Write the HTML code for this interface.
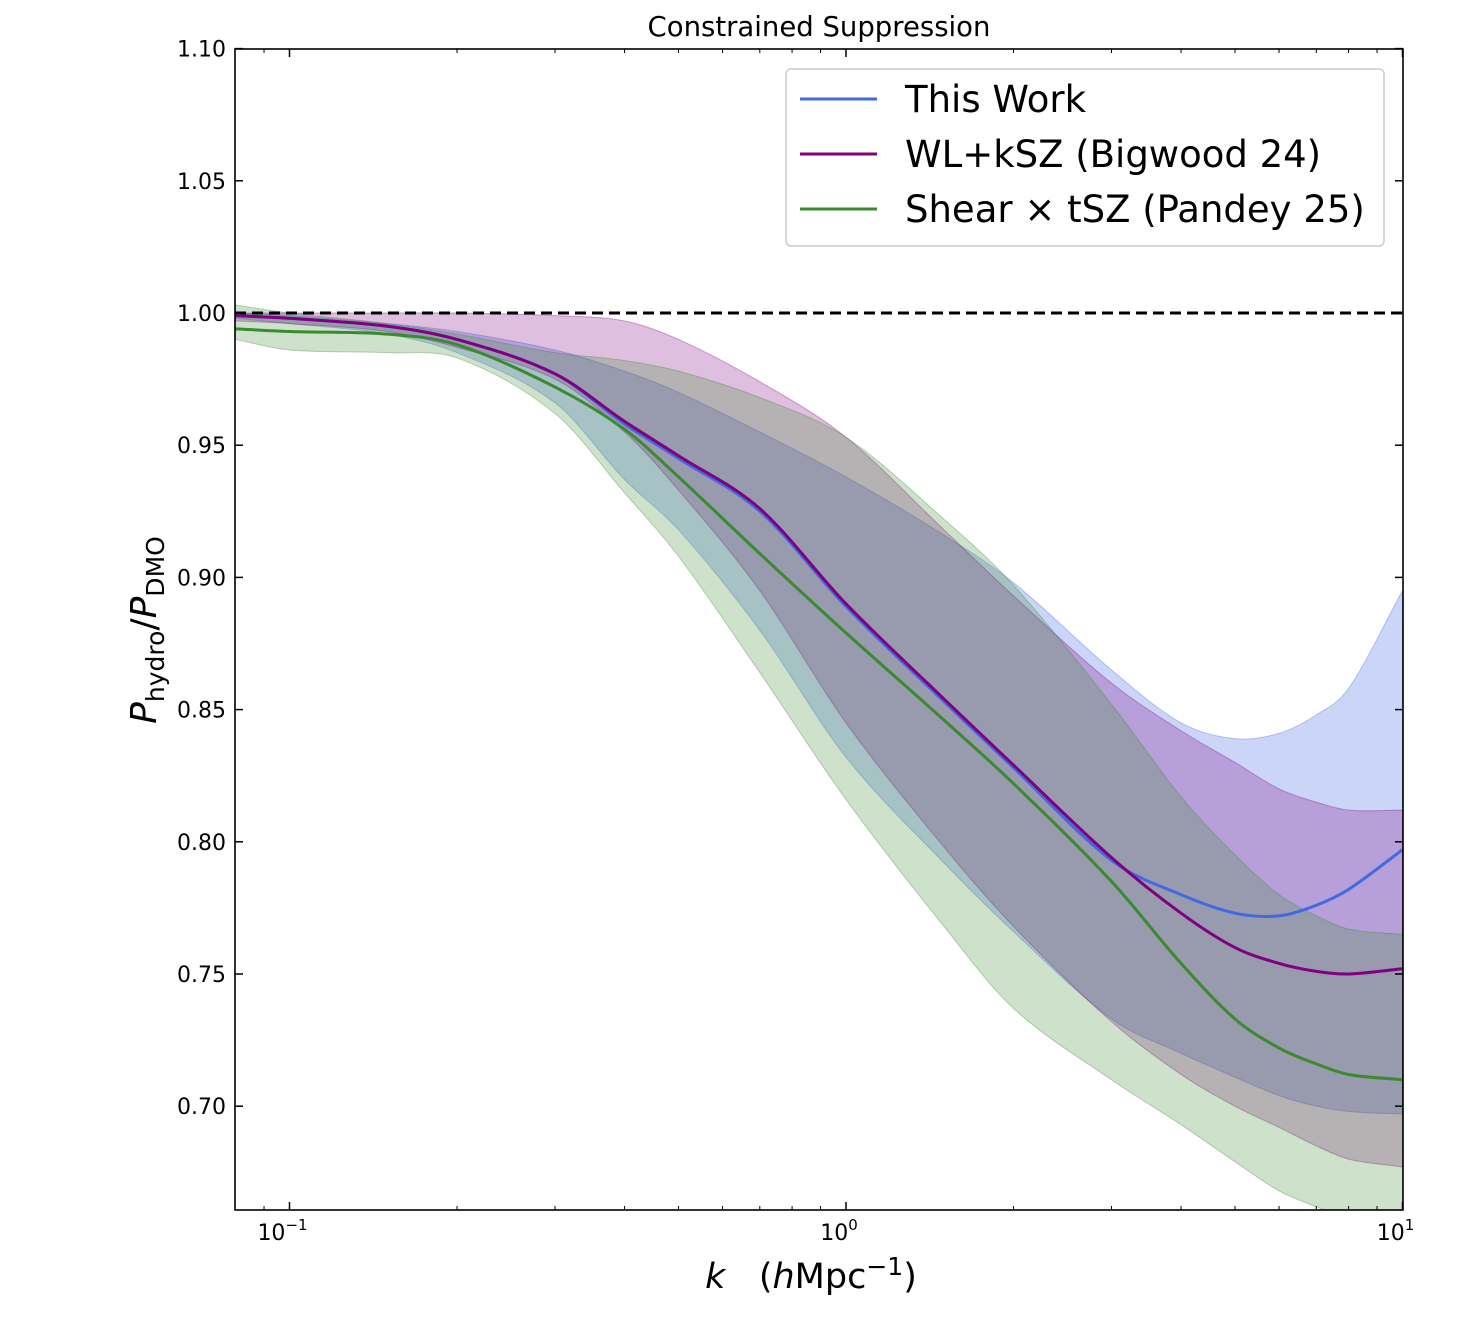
<!DOCTYPE html>
<html><head><meta charset="utf-8"><style>
body{margin:0;background:#fff}
svg text{font-family:"DejaVu Sans","Liberation Sans",sans-serif}
</style></head><body>
<svg id="chart" width="1478" height="1324" xmlns="http://www.w3.org/2000/svg">
<defs><clipPath id="pc"><rect x="235" y="49" width="1168" height="1161"/></clipPath></defs>
<text x="819" y="36" font-size="27.5" text-anchor="middle">Constrained Suppression</text>
<g id="bands" clip-path="url(#pc)"></g>
<line x1="235" x2="1403" y1="313" y2="313" stroke="#000" stroke-width="3" stroke-dasharray="11,6"/>
<g id="lines" clip-path="url(#pc)"></g>
<g id="axes"></g>
<rect x="235" y="49" width="1168" height="1161" fill="none" stroke="#000" stroke-width="1.6"/>
<text transform="translate(156,630) rotate(-90)" font-size="36" text-anchor="middle"><tspan font-style="italic">P</tspan><tspan font-size="25" dy="8">hydro</tspan><tspan dy="-8">/</tspan><tspan font-style="italic">P</tspan><tspan font-size="25" dy="8">DMO</tspan></text>
<text x="811" y="1288" font-size="35" text-anchor="middle" xml:space="preserve"><tspan font-style="italic">k</tspan>   (<tspan font-style="italic">h</tspan>Mpc<tspan font-size="25" dy="-13">−1</tspan><tspan dy="13">)</tspan></text>
<g>
<rect x="786" y="69" width="598" height="177" rx="5" fill="#fff" fill-opacity="0.85" stroke="#ccc" stroke-width="1.5"/>
<line x1="800" x2="877" y1="99" y2="99" stroke="#4169e1" stroke-width="3"/>
<text x="905" y="112" font-size="37">This Work</text>
<line x1="800" x2="877" y1="154" y2="154" stroke="#800080" stroke-width="3"/>
<text x="905" y="167" font-size="37">WL+kSZ (Bigwood 24)</text>
<line x1="800" x2="877" y1="209" y2="209" stroke="#3a8a2e" stroke-width="3"/>
<text x="905" y="222" font-size="37">Shear × tSZ (Pandey 25)</text>
</g>
</svg>
<script>
const kVals=[0.08,0.1,0.15,0.2,0.3,0.4,0.5,0.7,1,1.5,2,3,4,5,6,7,8,10];
const blueMid=[0.999,0.998,0.995,0.990,0.977,0.958,0.945,0.925,0.889,0.853,0.828,0.793,0.780,0.773,0.772,0.776,0.782,0.797];
const blueHi=[1.0,0.999,0.996,0.993,0.986,0.978,0.970,0.955,0.938,0.916,0.898,0.865,0.845,0.839,0.841,0.848,0.858,0.895];
const blueLo=[0.998,0.996,0.992,0.985,0.966,0.937,0.918,0.880,0.832,0.792,0.766,0.733,0.720,0.711,0.704,0.700,0.698,0.697];
const purMid=[0.999,0.998,0.995,0.990,0.977,0.959,0.946,0.926,0.890,0.854,0.829,0.794,0.773,0.760,0.754,0.751,0.750,0.752];
const purHi=[1.0,1.0,1.0,1.0,0.999,0.997,0.990,0.974,0.953,0.918,0.893,0.860,0.842,0.830,0.820,0.815,0.812,0.812];
const purLo=[0.997,0.996,0.993,0.987,0.975,0.955,0.933,0.895,0.845,0.798,0.768,0.732,0.712,0.700,0.692,0.685,0.680,0.677];
const grnMid=[0.994,0.993,0.992,0.988,0.972,0.956,0.938,0.909,0.879,0.846,0.822,0.785,0.754,0.733,0.722,0.716,0.712,0.710];
const grnHi=[1.003,1.0,0.996,0.992,0.985,0.982,0.978,0.968,0.953,0.922,0.897,0.852,0.817,0.795,0.780,0.772,0.767,0.765];
const grnLo=[0.990,0.986,0.985,0.983,0.962,0.932,0.908,0.864,0.816,0.768,0.737,0.710,0.693,0.679,0.668,0.662,0.658,0.652];
const yTicks=[0.70,0.75,0.80,0.85,0.90,0.95,1.00,1.05,1.10];
const xTicks=[0.1,1,10];
const xTickLabels=["10","10","10"];
const xTickExp=["−1","0","1"];
const NS="http://www.w3.org/2000/svg";
const X=k=>846+556.5*Math.log10(k);
const Y=v=>313-(v-1)/0.05*132.2;
function smooth(p){const n=p.length,m=[];
for(let i=0;i<n;i++){const a=p[Math.max(0,i-1)],b=p[Math.min(n-1,i+1)];m.push((b[1]-a[1])/(b[0]-a[0]));}
let d="";for(let i=0;i<n-1;i++){const dx=p[i+1][0]-p[i][0];
d+=` C${p[i][0]+dx/3},${p[i][1]+m[i]*dx/3} ${p[i+1][0]-dx/3},${p[i+1][1]-m[i+1]*dx/3} ${p[i+1][0]},${p[i+1][1]}`;}return d;}
function pts(arr){return kVals.map((k,i)=>[X(k),Y(arr[i])]);}
function band(hi,lo,col,op,name){const a=pts(hi),b=pts(lo);
const br=b.slice().reverse();
const rev=br.map(q=>[-q[0],q[1]]);
const dr=smooth(rev).replace(/(-?[\d.]+),(-?[\d.e-]+)/g,(s,x,y)=>(-parseFloat(x))+","+y);
const d="M"+a[0][0]+","+a[0][1]+smooth(a)+" L"+br[0][0]+","+br[0][1]+dr+"Z";
const p=document.createElementNS(NS,"path");p.setAttribute("d",d);p.setAttribute("fill",col);p.setAttribute("fill-opacity",op);p.setAttribute("stroke",col);p.setAttribute("stroke-opacity",0.35);


document.getElementById("bands").appendChild(p);}
function line(arr,col,name){const a=pts(arr);const p=document.createElementNS(NS,"path");
p.setAttribute("d","M"+a[0][0]+","+a[0][1]+smooth(a));p.setAttribute("fill","none");p.setAttribute("stroke",col);p.setAttribute("stroke-width",3);


document.getElementById("lines").appendChild(p);}
band(blueHi,blueLo,"#4169e1",0.28,"band-this-work");
band(purHi,purLo,"#800080",0.25,"band-bigwood");
band(grnHi,grnLo,"#3a8a2e",0.25,"band-pandey");
line(blueMid,"#4169e1","line-this-work");
line(grnMid,"#3a8a2e","line-pandey");
line(purMid,"#800080","line-bigwood");
const ax=document.getElementById("axes");
function mk(tag,attrs,txt){const e=document.createElementNS(NS,tag);for(const k in attrs)e.setAttribute(k,attrs[k]);if(txt!==undefined)e.textContent=txt;ax.appendChild(e);return e;}
yTicks.forEach(v=>{const y=Y(v);
const t=mk("line",{x1:235,x2:243,y1:y,y2:y,stroke:"#000","stroke-width":1.5});


const t2=mk("line",{x1:1395,x2:1403,y1:y,y2:y,stroke:"#000","stroke-width":1.5});


const l=mk("text",{x:226,y:y+8,"font-size":22,"text-anchor":"end"},v.toFixed(2));

});
xTicks.forEach((k,i)=>{const x=X(k);
const t=mk("line",{x1:x,x2:x,y1:1202,y2:1210,stroke:"#000","stroke-width":1.5});


const t2=mk("line",{x1:x,x2:x,y1:49,y2:57,stroke:"#000","stroke-width":1.5});


const l=mk("text",{x:x-7,y:1240,"font-size":22,"text-anchor":"middle"});


l.innerHTML=xTickLabels[i]+'<tspan font-size="15" dy="-10">'+xTickExp[i]+'</tspan>';});
[0.09,0.2,0.3,0.4,0.5,0.6,0.7,0.8,0.9,2,3,4,5,6,7,8,9].forEach(k=>{const x=X(k);
const t=mk("line",{x1:x,x2:x,y1:1206,y2:1210,stroke:"#000","stroke-width":1});


const t2=mk("line",{x1:x,x2:x,y1:49,y2:53,stroke:"#000","stroke-width":1});

});
</script>
</body></html>
